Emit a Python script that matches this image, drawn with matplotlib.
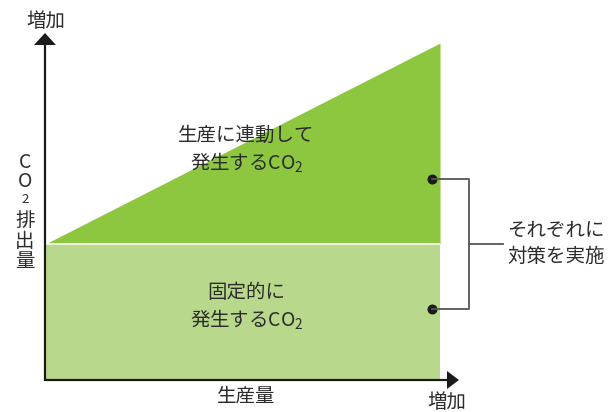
import numpy as np
import matplotlib
matplotlib.use("Agg")
import matplotlib.pyplot as plt
from matplotlib.patches import Polygon

plt.rcParams['font.family'] = ['Noto Sans CJK JP', 'DejaVu Sans']
plt.rcParams['mathtext.fontset'] = 'custom'
plt.rcParams['mathtext.rm'] = 'Noto Sans CJK JP'
plt.rcParams['mathtext.it'] = 'Noto Sans CJK JP'
plt.rcParams['mathtext.default'] = 'rm'

# ---- data (conceptual) ----
production = [0.0, 1.0]          # 生産量 (normalised)
fixed_co2 = [1.0, 1.0]           # 固定的に発生するCO2
variable_co2 = [0.0, 1.48]       # 生産に連動して発生するCO2
upper_label = "生産に連動して\n発生するCO$_2$"
lower_label = "固定的に\n発生するCO$_2$"
bracket_label = "それぞれに\n対策を実施"
x_label = "生産量"
y_label_chars = ["C", "O", "2", "排", "出", "量"]
arrow_label = "増加"

TXT = '#2b2b2b'
DARK = '#8dc63f'
LIGHT = '#b8d98b'
W, H = 616, 412

fig = plt.figure(figsize=(W/100, H/100), dpi=100)
ax = fig.add_axes([45/W, 32/H, 395/W, 337/H])
ax.set_xlim(0, 1)
ax.set_ylim(0, 2.48)
ax.axis('off')

total = np.add(fixed_co2, variable_co2)
ax.fill_between(production, 0, fixed_co2, color=LIGHT, lw=0)
ax.fill_between(production, fixed_co2, total, color=DARK, lw=0)
ax.plot(production, fixed_co2, color='white', lw=1.2, solid_capstyle='butt')

# labels inside regions
ax.text(0.51, 1.69, upper_label, ha='center', va='center', fontsize=14,
        color=TXT, linespacing=1.25)
ax.text(0.51, 0.54, lower_label, ha='center', va='center', fontsize=14,
        color=TXT, linespacing=1.25)

# bracket dots (data coords)
dot_x = 0.98
dot_up = fixed_co2[1] + variable_co2[1] * 0.325
dot_lo = fixed_co2[1] * 0.52
ax.plot([dot_x, dot_x], [dot_up, dot_lo], 'o', color='#1a1a1a', ms=6.2, clip_on=False, zorder=5)

# overlay in pixel coords for axes arrows / bracket
ov = fig.add_axes([0, 0, 1, 1], zorder=3)
ov.set_xlim(0, W)
ov.set_ylim(H, 0)
ov.axis('off')
ov.patch.set_alpha(0)

def px_of(xd, yd):
    disp = ax.transData.transform((xd, yd))
    return ov.transData.inverted().transform(disp)

x0, y0 = px_of(0, 0)
_, yup = px_of(dot_x, dot_up)
xd, ylo = px_of(dot_x, dot_lo)
_, ymid = px_of(0, fixed_co2[0])

LW = 1.6
ov.plot([x0, x0], [y0 + 1, 44], color='#1a1a1a', lw=LW, solid_capstyle='butt')
ov.add_patch(Polygon([(x0 - 11, 45), (x0 + 11, 45), (x0, 33)], closed=True, color='#1a1a1a', lw=0))
ov.plot([x0, 448], [y0, y0], color='#1a1a1a', lw=LW, solid_capstyle='butt')
ov.add_patch(Polygon([(447, y0 - 9), (447, y0 + 9), (459, y0)], closed=True, color='#1a1a1a', lw=0))

# bracket
bx = 469
GR = '#555555'
ov.plot([xd, bx, bx, xd], [yup, yup, ylo, ylo], color=GR, lw=1.3)
ov.plot([bx, 503], [ymid, ymid], color=GR, lw=1.3)
ov.text(507, ymid - 1, bracket_label, ha='left', va='center', fontsize=14,
        color=TXT, linespacing=1.3)

# axis labels
ov.text(46, 21, arrow_label, ha='center', va='center', fontsize=14, color=TXT)
ov.text(447, 402, arrow_label, ha='center', va='center', fontsize=14, color=TXT)
ov.text(246, 396, x_label, ha='center', va='center', fontsize=14, color=TXT)
ys = [162, 181, 199, 220, 241, 262]
sizes = [14, 14, 9.5, 14, 14, 14]
for ch, yy, fs in zip(y_label_chars, ys, sizes):
    ov.text(25, yy, ch, ha='center', va='center', fontsize=fs, color=TXT)

fig.savefig('out.png', dpi=100)
